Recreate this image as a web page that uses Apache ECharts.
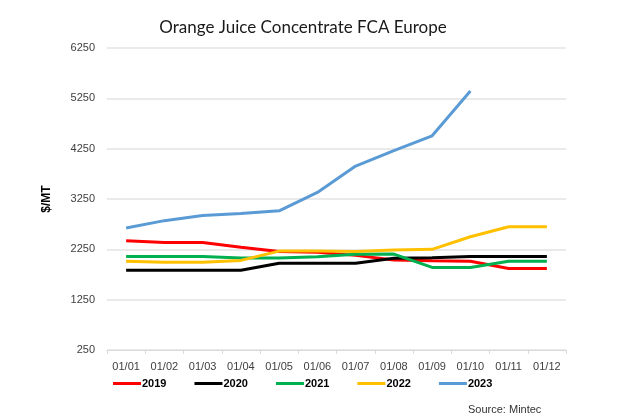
<!DOCTYPE html>
<html>
<head>
<meta charset="utf-8">
<script src="https://cdn.jsdelivr.net/npm/echarts@6/dist/echarts.min.js"></script>
<style>html,body{margin:0;padding:0;background:#fff}#c{width:626px;height:418px}</style>
</head>
<body>
<div id="c"></div>
<script>
var categories = ['01/01','01/02','01/03','01/04','01/05','01/06','01/07','01/08','01/09','01/10','01/11','01/12'];
var s2019 = [2420, 2385, 2385, 2290, 2205, 2190, 2130, 2040, 2025, 2015, 1870, 1870];
var s2020 = [1835, 1835, 1835, 1835, 1975, 1975, 1975, 2075, 2085, 2110, 2110, 2110];
var s2021 = [2110, 2110, 2110, 2078, 2078, 2105, 2150, 2155, 1890, 1890, 2015, 2015];
var s2022 = [2015, 1995, 1995, 2030, 2215, 2215, 2205, 2235, 2250, 2500, 2700, 2700];
var s2023 = [2675, 2820, 2920, 2960, 3015, 3380, 3905, 4210, 4505, 5395, null, null];
var yTicks = {min: 250, max: 6250, interval: 1000};

var chart = echarts.init(document.getElementById('c'));
function ser(name, data, color) {
  return {name: name, type: 'line', data: data, symbol: 'none', smooth: false,
    lineStyle: {color: color, width: 3}, itemStyle: {color: color}};
}
chart.setOption({
  animation: false,
  title: [{
    text: 'Orange Juice Concentrate FCA Europe',
    left: 298, top: 14, textAlign: 'center',
    textStyle: {fontFamily: 'Lato', fontWeight: 'normal', fontSize: 17, color: '#1a1a1a'}
  }, {
    text: 'Source: Mintec',
    left: 463, top: 399,
    textStyle: {fontFamily: 'Liberation Sans', fontWeight: 'normal', fontSize: 11, color: '#333'}
  }],
  grid: {left: 107, right: 60, top: 48, bottom: 68},
  legend: {
    left: 108, top: 373, itemWidth: 28, itemHeight: 3, itemGap: 28, icon: 'rect',
    textStyle: {fontFamily: 'Liberation Sans', fontWeight: 'bold', fontSize: 11, color: '#000', padding: [0,0,0,-4]},
    data: ['2019','2020','2021','2022','2023']
  },
  xAxis: {
    type: 'category', data: categories, boundaryGap: true,
    axisLine: {lineStyle: {color: '#d9d9d9'}},
    axisTick: {show: true, length: 4, lineStyle: {color: '#d9d9d9'}},
    axisLabel: {fontFamily: 'Liberation Sans', fontSize: 11, color: '#404040', margin: 11}
  },
  yAxis: {
    type: 'value', min: yTicks.min, max: yTicks.max, interval: yTicks.interval,
    name: '$/MT', nameLocation: 'middle', nameGap: 54, nameRotate: 90,
    nameTextStyle: {fontFamily: 'Liberation Sans', fontWeight: 'bold', fontSize: 12, color: '#000'},
    axisLine: {show: false}, axisTick: {show: false},
    splitLine: {lineStyle: {color: '#e3e3e3', width: 1.5}},
    axisLabel: {fontFamily: 'Liberation Sans', fontSize: 11, color: '#404040', margin: 12,
      formatter: function (v) { return String(v); }}
  },
  series: [
    ser('2019', s2019, '#ff0000'),
    ser('2020', s2020, '#000000'),
    ser('2021', s2021, '#00b050'),
    ser('2022', s2022, '#ffc000'),
    ser('2023', s2023, '#5b9bd5')
  ]
});
</script>
</body>
</html>
